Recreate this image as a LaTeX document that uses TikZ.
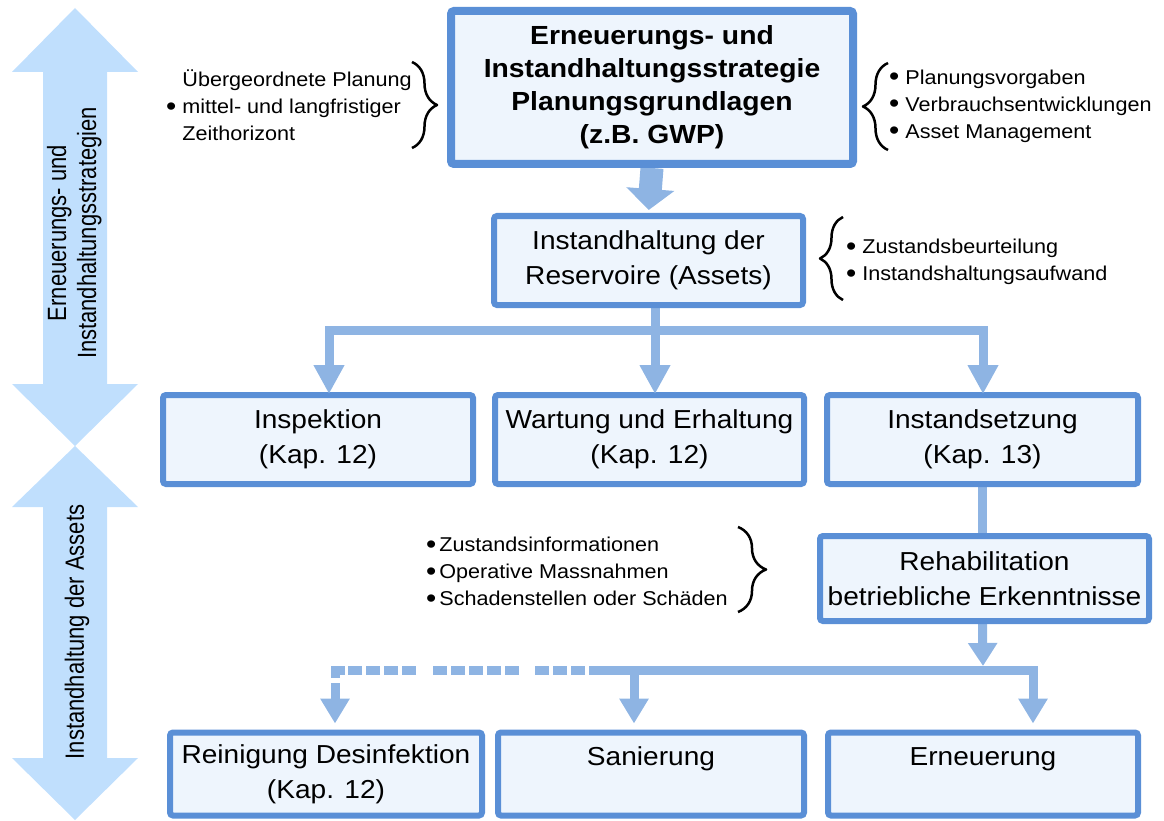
\documentclass[tikz,border=0pt]{standalone}
\usepackage{fontspec}
\setmainfont[FakeStretch=1.08]{Liberation Sans}
\newfontfamily\rotfont{Liberation Sans}
\usepackage{graphicx}
\usetikzlibrary{arrows.meta,decorations.pathreplacing,calc}
\pgfdeclarelayer{back}
\pgfsetlayers{back,main}
\definecolor{boxborder}{HTML}{5A8FD6}
\definecolor{boxfill}{HTML}{EEF5FD}
\definecolor{connblue}{HTML}{8EB4E3}
\definecolor{sidearrow}{HTML}{C0DFFD}
\newcommand\mybul{\raisebox{-0.09em}{\scalebox{1.35}{•}}}
\begin{document}
\begin{tikzpicture}[x=1pt,y=-1pt,
  box/.style={draw=boxborder, fill=boxfill, line width=6pt, rounded corners=3pt,
    inner sep=0pt, align=center, font=\fontsize{26}{35}\selectfont},
  side/.style={inner sep=0pt, align=left, anchor=west, font=\fontsize{20}{27}\selectfont},
  cline/.style={draw=connblue, line width=9pt, line join=miter},
  tipA/.style={-{Triangle[width=29pt,length=29pt]}},
  tipB/.style={-{Triangle[width=28pt,length=25pt]}},
  bracestyle/.style={decorate, line width=2.5pt, line join=round},
  rottext/.style={rotate=90, inner sep=0pt, font=\rotfont\fontsize{22}{25}\selectfont}
]
\useasboundingbox (0,0) rectangle (1164,821);

% side double arrows
\fill[sidearrow] (75,8) -- (138,72) -- (107,72) -- (107,384) -- (138,384) -- (75,446)
  -- (12,384) -- (43,384) -- (43,72) -- (12,72) -- cycle;
\fill[sidearrow] (75,446) -- (138,507) -- (107,507) -- (107,758) -- (138,758) -- (75,820)
  -- (12,758) -- (43,758) -- (43,507) -- (12,507) -- cycle;
\node[rottext] (arrtxtA) at (75,233) {\scalebox{1}[1.2]{\begin{tabular}{@{}c@{}}Erneuerungs- und\\Instandhaltungsstrategien\end{tabular}}};
\node[rottext] (arrtxtB) at (77,632) {\scalebox{1}[1.2]{Instandhaltung der Assets}};

% boxes
\node[box, line width=8pt, minimum width=402pt, minimum height=153pt,
  font=\bfseries\fontsize{26.2}{33}\selectfont] (top) at (652,87.5)
  {Erneuerungs- und\\Instandhaltungsstrategie\\Planungsgrundlagen\\(z.B. GWP)};
\node[box, minimum width=309pt, minimum height=89pt] (res) at (648.5,260.5)
  {Instandhaltung der\\Reservoire (Assets)};
\node[box, minimum width=310pt, minimum height=89pt] (insp) at (318,439.5)
  {Inspektion\\(Kap. 12)};
\node[box, minimum width=309pt, minimum height=89pt] (wart) at (649.5,439.5)
  {Wartung und Erhaltung\\(Kap. 12)};
\node[box, minimum width=311pt, minimum height=89pt] (inst) at (982.5,439.5)
  {Instandsetzung\\(Kap. 13)};
\node[box, minimum width=329pt, minimum height=85pt] (rehab) at (984.5,578.5)
  {Rehabilitation\\betriebliche Erkenntnisse};
\node[box, minimum width=312pt, minimum height=83pt] (rein) at (326,774)
  {Reinigung Desinfektion\\(Kap. 12)};
\node[box, minimum width=306pt, minimum height=83pt] (san) at (651,774)
  {Sanierung\\\mbox{}};
\node[box, minimum width=310pt, minimum height=83pt] (ern) at (983,774)
  {Erneuerung\\\mbox{}};

% coordinates
\coordinate (j1) at (655,330);
\coordinate (aI) at (329,330);
\coordinate (aR) at (983,330);
\coordinate (j2t) at (983,666);
\coordinate (d0) at (589,670);
\coordinate (aS) at (634,670);
\coordinate (aE) at (1033,670);
\coordinate (aD) at (335,670);

% connectors
\begin{pgfonlayer}{back}
\draw[draw=connblue, line width=23pt, -{Triangle[width=47pt,length=21pt]},
  shorten >=3pt] (top.south) -- (res.north);
\draw[cline] (j1 |- res.south) -- (j1);
\draw[cline] (inst.south) -- (inst.south |- rehab.north);
\draw[cline, -{Triangle[width=28pt,length=23pt]}] (rehab.south -| inst.south) -- (j2t);
\end{pgfonlayer}
\draw[cline, tipA, shorten >=-2pt] (j1) -- (aI) -- (aI |- insp.north);
\draw[cline, tipA, shorten >=-2pt] (j1) -- (j1 |- wart.north);
\draw[cline, tipA, shorten >=-2pt] (j1) -- (aR) -- (aR |- inst.north);
\draw[cline, tipB, shorten >=6pt] (d0) -- (aE) -- (aE |- ern.north);
\draw[cline, tipB, shorten >=6pt] (aS) -- (aS |- san.north);
\draw[cline, tipB, shorten >=6pt,
  dash pattern=on 0pt off 4pt on 14pt off 4pt on 14pt off 4pt on 14pt off 16pt
  on 14pt off 4pt on 14pt off 4pt on 14pt off 4pt on 14pt off 4pt on 14pt off 17pt
  on 14pt off 4pt on 14pt off 4pt on 14pt off 4pt on 14pt off 3pt on 18pt off 5pt on 100pt off 0pt]
  (d0) -- (aD) -- (aD |- rein.north);

% side texts and braces
\node[side] (tl) at (166,105.5) {\hphantom{\mybul~}Übergeordnete Planung\\\mybul~mittel- und langfristiger\\\hphantom{\mybul~}Zeithorizont};
\draw[bracestyle, decoration={brace, amplitude=25pt}] (412,62) -- (412,148);
\node[side] (tr) at (889,106) {\mybul~Planungsvorgaben\\\mybul~Verbrauchsentwicklungen\\\mybul~Asset Management};
\draw[bracestyle, decoration={brace, amplitude=25pt}] (888,150) -- (888,63);
\node[side] (mr) at (846,262) {\mybul~Zustandsbeurteilung\\\mybul~Instandshaltungsaufwand};
\draw[bracestyle, decoration={brace, amplitude=23pt}] (843,300) -- (843,217);
\node[side] (ml) at (426,572) {\mybul\hspace{3pt}Zustandsinformationen\\\mybul\hspace{3pt}Operative Massnahmen\\\mybul\hspace{3pt}Schadenstellen oder Schäden};
\draw[bracestyle, decoration={brace, amplitude=28pt}] (738,527) -- (738,612);
\end{tikzpicture}
\end{document}
